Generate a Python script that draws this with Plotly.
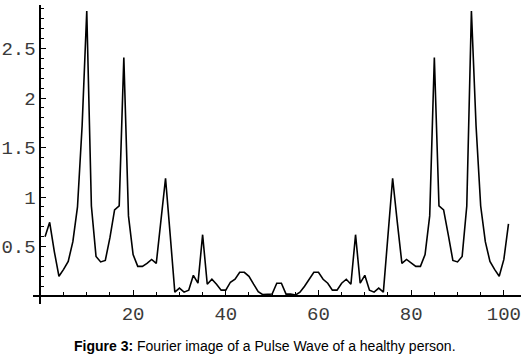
import plotly.graph_objects as go

# Fourier magnitude values, index 1..101
k = list(range(1, 102))
amplitude = [
    0.60, 0.745, 0.45, 0.20, 0.27, 0.35, 0.55, 0.90, 1.72, 2.88,
    0.91, 0.40, 0.345, 0.36, 0.59, 0.87, 0.91, 2.41, 0.81, 0.42,
    0.30, 0.30, 0.33, 0.37, 0.33, 0.75, 1.19, 0.62, 0.04, 0.08,
    0.04, 0.06, 0.21, 0.13, 0.62, 0.12, 0.17, 0.12, 0.06, 0.06,
    0.14, 0.17, 0.24, 0.24, 0.20, 0.12, 0.045, 0.015, 0.02, 0.02,
    0.13, 0.13, 0.02, 0.02, 0.01, 0.04, 0.10, 0.17, 0.24, 0.24,
    0.17, 0.13, 0.06, 0.06, 0.13, 0.17, 0.12, 0.62, 0.13, 0.21,
    0.06, 0.04, 0.08, 0.04, 0.62, 1.19, 0.75, 0.33, 0.37, 0.33,
    0.30, 0.30, 0.42, 0.81, 2.41, 0.91, 0.87, 0.62, 0.36, 0.345,
    0.40, 0.91, 2.88, 1.72, 0.91, 0.55, 0.35, 0.27, 0.20, 0.37,
    0.73,
]

x_ticks = [20, 40, 60, 80, 100]
x_tick_labels = ["20", "40", "60", "80", "100"]
y_ticks = [0.5, 1, 1.5, 2, 2.5]
y_tick_labels = ["0.5", "1", "1.5", "2", "2.5"]

caption = "<b>Figure 3:</b> Fourier image of a Pulse Wave of a healthy person."

x_range = [-1.6, 103.7]
y_range = [-0.08, 2.94]

fig = go.Figure()
fig.add_trace(go.Scatter(
    x=k, y=amplitude, mode="lines",
    line=dict(color="black", width=1.6),
    showlegend=False, hoverinfo="skip",
))

tick_font = dict(family="Liberation Mono, Courier New, monospace", size=19, color="#3a3a3a")

fig.update_layout(
    template="none",
    width=525, height=358,
    margin=dict(l=33, r=4, t=5, b=54, pad=0),
    paper_bgcolor="white", plot_bgcolor="white",
    xaxis=dict(
        range=x_range, anchor="free", automargin=False,
        position=(0 - y_range[0]) / (y_range[1] - y_range[0]),
        showline=True, linecolor="black", linewidth=2,
        showgrid=False, zeroline=False,
        ticks="inside", ticklen=5, tickwidth=1, tickcolor="black",
        tickvals=x_ticks, ticktext=x_tick_labels, tickfont=tick_font,
        minor=dict(dtick=5, tick0=0, ticks="inside", ticklen=3,
                   tickwidth=1, tickcolor="black", showgrid=False),
    ),
    yaxis=dict(
        range=y_range, anchor="free", automargin=False,
        position=(0 - x_range[0]) / (x_range[1] - x_range[0]),
        showline=True, linecolor="black", linewidth=2,
        showgrid=False, zeroline=False,
        ticks="inside", ticklen=5, tickwidth=1, tickcolor="black",
        tickvals=y_ticks, ticktext=y_tick_labels, tickfont=tick_font,
        minor=dict(dtick=0.1, tick0=0, ticks="inside", ticklen=3,
                   tickwidth=1, tickcolor="black", showgrid=False),
    ),
    annotations=[dict(
        text=caption, xref="paper", yref="paper",
        x=0.476, y=-0.139, xanchor="center", yanchor="middle",
        showarrow=False,
        font=dict(family="Liberation Sans, Arial, sans-serif", size=14, color="black"),
    )],
)

fig.write_html(
    "out.html",
    config={"displayModeBar": False},
    post_script="document.body.style.margin='0';document.body.style.padding='0';",
)
